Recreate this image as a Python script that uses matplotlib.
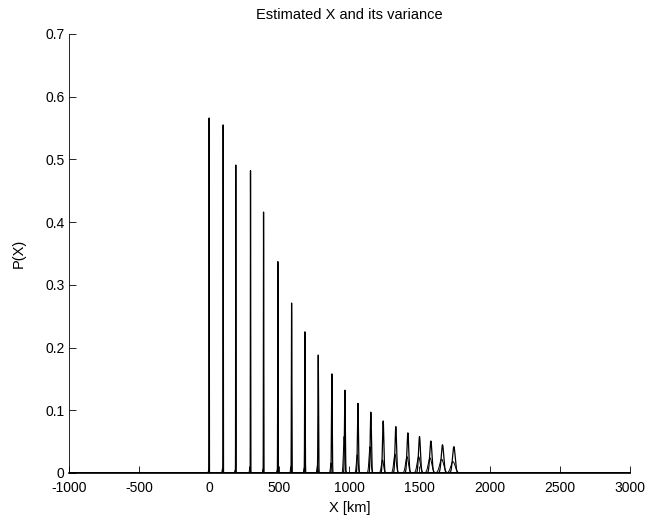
import numpy as np
import matplotlib
matplotlib.use("Agg")
import matplotlib.pyplot as plt

plt.rcParams['font.family'] = ['Liberation Sans', 'DejaVu Sans']

# Posterior (updated) estimates: mean [km] and peak density
post_mean = [0, 100, 190, 295, 388, 490, 588, 683, 778, 875,
             968, 1061, 1153, 1241, 1331, 1417, 1500, 1581, 1664, 1745]
post_peak = [0.566, 0.555, 0.491, 0.482, 0.416, 0.337, 0.271, 0.225, 0.188, 0.158,
             0.132, 0.111, 0.097, 0.083, 0.074, 0.064, 0.058, 0.051, 0.045, 0.042]

# Secondary (predicted) curves: mean [km] and peak density
prior_mean = [-2, 96, 186, 291, 384, 486, 583, 678, 772, 869,
              962, 1056, 1147, 1236, 1325, 1411, 1494, 1575, 1658, 1739]
prior_peak = [0.006, 0.008, 0.005, 0.010, 0.006, 0.005, 0.010, 0.008, 0.012, 0.016,
              0.058, 0.029, 0.042, 0.021, 0.030, 0.026, 0.026, 0.024, 0.022, 0.018]

xticks = [-1000, -500, 0, 500, 1000, 1500, 2000, 2500, 3000]
yticks = [0, 0.1, 0.2, 0.3, 0.4, 0.5, 0.6, 0.7]


def curve(mu, peak, sigma):
    xs = mu + sigma * np.linspace(-6, 6, 401)
    ys = peak * np.exp(-0.5 * ((xs - mu) / sigma) ** 2)
    x = np.concatenate([[-1000], xs, [3000]])
    y = np.concatenate([[0], ys, [0]])
    return x, y


fig = plt.figure(figsize=(6.5, 5.27), dpi=100)
ax = fig.add_axes([0.106, 0.1025, 0.863, 0.833])

for i, (mu, pk) in enumerate(zip(prior_mean, prior_peak)):
    s_post = 1.0 / (post_peak[i] * np.sqrt(2 * np.pi))
    x, y = curve(mu, pk, max(1.6 * s_post, 3.0))
    ax.plot(x, y, color='black', lw=0.7)
for mu, pk in zip(post_mean, post_peak):
    s = 1.0 / (pk * np.sqrt(2 * np.pi))
    x, y = curve(mu, pk, s)
    ax.plot(x, y, color='black', lw=0.9)

ax.set_xlim(-1000, 3000)
ax.set_ylim(0, 0.7)
ax.set_xticks(xticks)
ax.set_xticklabels([str(t) for t in xticks])
ax.set_yticks(yticks)
ax.set_yticklabels(['0', '0.1', '0.2', '0.3', '0.4', '0.5', '0.6', '0.7'])
ax.tick_params(direction='in', length=5, width=0.6, labelsize=10)
ax.tick_params(axis='x', pad=6)
ax.tick_params(axis='y', pad=3)
ax.spines['top'].set_visible(False)
ax.spines['right'].set_visible(False)
ax.spines['left'].set_linewidth(0.6)
ax.spines['bottom'].set_linewidth(1.2)
ax.set_title('Estimated X and its variance', fontsize=10.5, pad=11)
ax.set_xlabel('X [km]', fontsize=10.5, labelpad=4)
ax.set_ylabel('P(X)', fontsize=10.5, labelpad=14)

fig.savefig('out.png', dpi=100)
